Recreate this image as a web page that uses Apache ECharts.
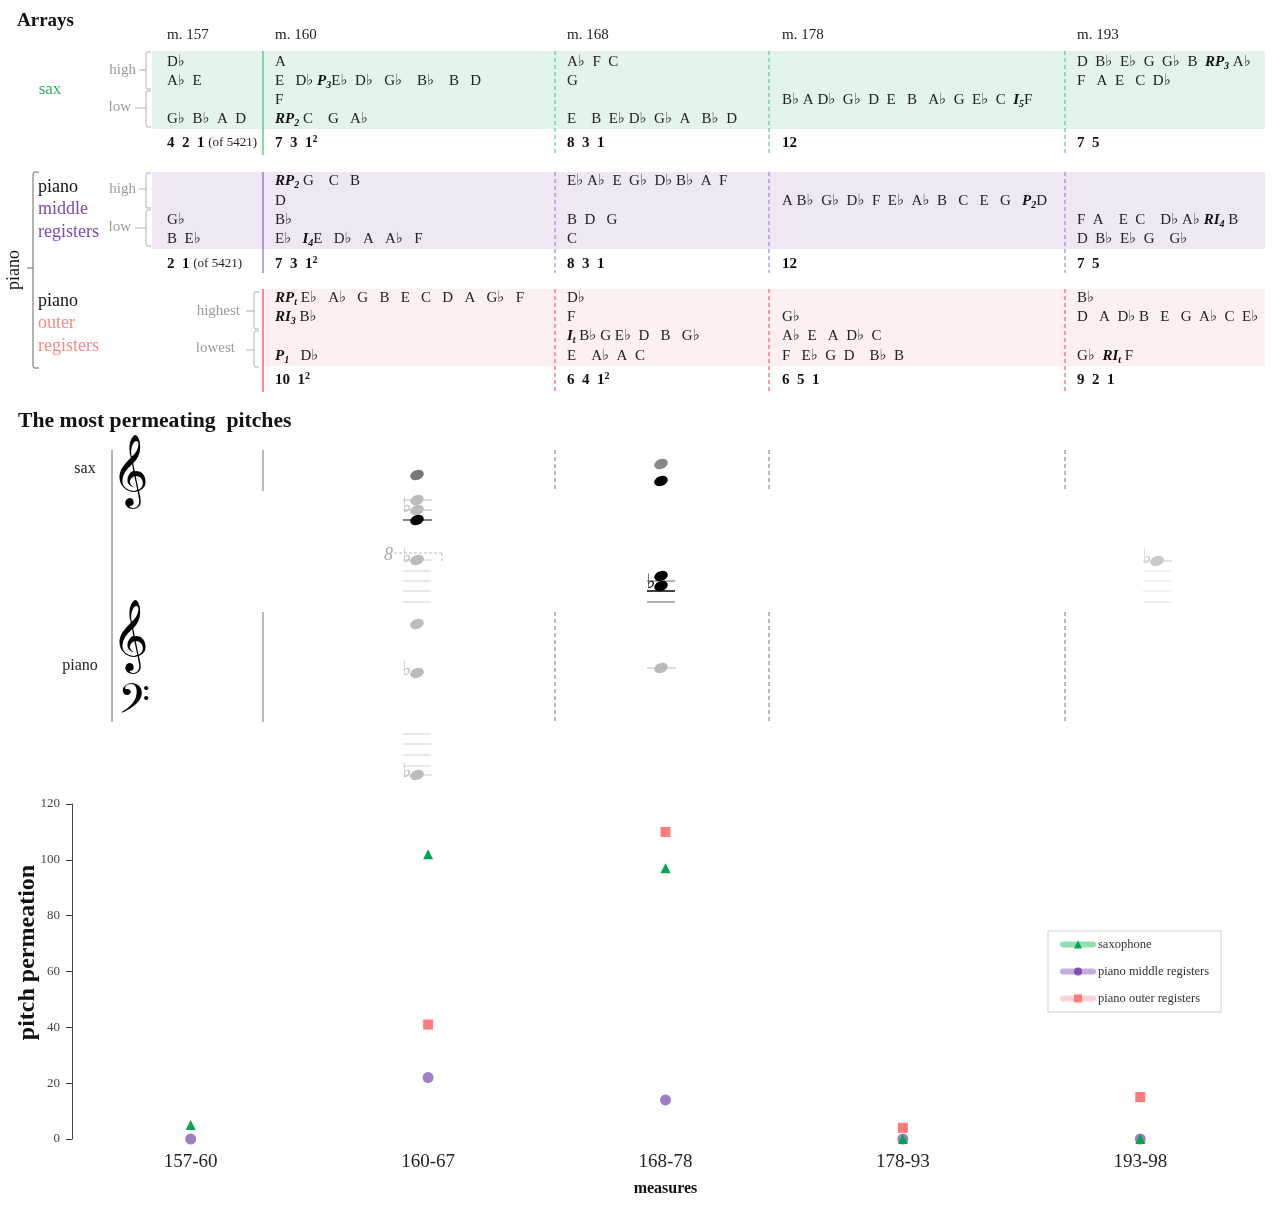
<!DOCTYPE html>
<html><head><meta charset="utf-8">
<script src="https://cdn.jsdelivr.net/npm/echarts@6/dist/echarts.min.js"></script>
<style>html,body{margin:0;padding:0;background:#fff}#c{width:1280px;height:1212px}</style>
</head><body><div id="c"></div>
<script>
// ---------- data ----------
const measures = ['157-60', '160-67', '168-78', '178-93', '193-98'];
const saxophone = [5, 102, 97, 0, 0];
const pianoMiddle = [0, 22, 14, 0, 0];
const pianoOuter = [null, 41, 110, 4, 15];
const yTicks = [0, 20, 40, 60, 80, 100, 120];

const columnHeaders = ['m. 157', 'm. 160', 'm. 168', 'm. 178', 'm. 193'];
const saxRows = [
  ['D♭', 'A♭  E', '', 'G♭  B♭  A  D'],
  ['A', 'E   D♭ {bi|P}{sub|3}E♭  D♭   G♭    B♭    B   D', 'F', '{bi|RP}{sub|2} C    G   A♭'],
  ['A♭  F  C', 'G', '', 'E    B  E♭ D♭  G♭  A   B♭  D'],
  ['', '', 'B♭ A D♭  G♭  D  E   B   A♭  G  E♭  C  {bi|I}{sub|5}F', ''],
  ['D  B♭  E♭  G  G♭  B  {bi|RP}{sub|3} A♭', 'F   A  E   C  D♭', '', '']
];
const saxCounts = ['{b|4  2  1} {s|(of 5421)}', '{b|7  3  1}{sup|2}', '{b|8  3  1}', '{b|12}', '{b|7  5}'];
const midRows = [
  ['', '', 'G♭', 'B  E♭'],
  ['{bi|RP}{sub|2} G    C   B', 'D', 'B♭', 'E♭   {bi|I}{sub|4}E   D♭   A   A♭   F'],
  ['E♭ A♭  E  G♭  D♭ B♭  A  F', '', 'B  D   G', 'C'],
  ['', 'A B♭  G♭  D♭  F  E♭  A♭  B   C   E   G   {bi|P}{sub|2}D', '', ''],
  ['', '', 'F  A    E  C    D♭ A♭ {bi|RI}{sub|4} B', 'D  B♭  E♭  G    G♭']
];
const midCounts = ['{b|2  1} {s|(of 5421)}', '{b|7  3  1}{sup|2}', '{b|8  3  1}', '{b|12}', '{b|7  5}'];
const outerRows = [
  ['', '', '', ''],
  ['{bi|RP}{sub|t} E♭   A♭   G   B   E   C   D   A   G♭   F', '{bi|RI}{sub|3} B♭', '', '{bi|P}{sub|1}   D♭'],
  ['D♭', 'F', '{bi|I}{sub|t} B♭ G E♭  D   B   G♭', 'E    A♭  A  C'],
  ['', 'G♭', 'A♭  E   A  D♭  C', 'F   E♭  G  D    B♭  B'],
  ['B♭', 'D   A  D♭ B   E   G  A♭  C  E♭', '', 'G♭  {bi|RI}{sub|t} F']
];
const outerCounts = ['', '{b|10  1}{sup|2}', '{b|6  4  1}{sup|2}', '{b|6  5  1}', '{b|9  2  1}'];

// ---------- drawing helpers ----------
const SERIF = '"Liberation Serif", "DejaVu Serif", serif';
const G = [];
const rich = {
  b: {fontWeight: 'bold', fontSize: 15, fontFamily: SERIF, fill: '#111', lineHeight: 18},
  s: {fontSize: 13, fontFamily: SERIF, fill: '#222', lineHeight: 18},
  sup: {fontSize: 10, fontWeight: 'bold', fontFamily: SERIF, fill: '#111', verticalAlign: 'top', lineHeight: 12},
  bi: {fontWeight: 'bold', fontStyle: 'italic', fontSize: 15, fontFamily: SERIF, fill: '#111', lineHeight: 18},
  sub: {fontSize: 10, fontWeight: 'bold', fontStyle: 'italic', fontFamily: SERIF, fill: '#111', verticalAlign: 'bottom', lineHeight: 10}
};
function txt(x, y, text, o) {
  o = o || {};
  G.push({type: 'text', x: x, y: y, z: 10, rotation: o.rot || 0, style: {
    text: text, fill: o.color || '#222',
    font: (o.style || 'normal') + ' ' + (o.weight || 'normal') + ' ' + (o.size || 15) + 'px ' + (o.family || SERIF),
    align: o.align || 'left', textAlign: o.align || 'left',
    verticalAlign: 'middle', textVerticalAlign: 'middle',
    lineHeight: 18, rich: rich
  }});
}
function line(x1, y1, x2, y2, color, w, dash) {
  G.push({type: 'line', z: 5, shape: {x1, y1, x2, y2}, style: {stroke: color, lineWidth: w || 1, lineDash: dash || null}});
}
function poly(pts, color) {
  G.push({type: 'polyline', z: 5, shape: {points: pts}, style: {stroke: color, fill: null, lineWidth: 1}});
}
function rect(x, y, w, h, color) {
  G.push({type: 'rect', z: 1, shape: {x, y, width: w, height: h}, style: {fill: color}});
}
function bracket(x, top, bot, tickY, tickX, endX, color) {
  poly([[endX, top], [x + 1, top], [x, top + 2], [x, bot - 2], [x + 1, bot], [endX, bot]], color);
  line(x, tickY, tickX, tickY, color, 1);
}

// ---------- titles ----------
txt(17, 21, 'Arrays', {weight: 'bold', size: 19, color: '#111'});
txt(18, 421, 'The most permeating  pitches', {weight: 'bold', size: 21.7, color: '#111'});

// ---------- arrays section ----------
const colX = [167, 275, 567, 782, 1077];
const sepX = [263, 555, 769, 1065];
columnHeaders.forEach((h, i) => txt(colX[i], 35, h, {size: 15}));

const sections = [
  {rows: saxRows, counts: saxCounts, top: 51, bot: 129, left: 152, rowY: [62, 81, 100, 119], countY: 143, lineBot: 155,
   band: '#e3f4ea', solid: '#1fb35c', dash: '#3cc274'},
  {rows: midRows, counts: midCounts, top: 172, bot: 249, left: 152, rowY: [181, 201, 220, 239], countY: 264, lineBot: 273,
   band: '#efe7f4', solid: '#7b4bb8', dash: '#9a6ed2'},
  {rows: outerRows, counts: outerCounts, top: 289, bot: 366, left: 263, rowY: [298, 317, 336, 356], countY: 380, lineBot: 392,
   band: '#fdf0f0', solid: '#e8262b', dash: '#ee4545'}
];
sections.forEach(s => {
  rect(s.left, s.top, 1265 - s.left, s.bot - s.top, s.band);
  sepX.forEach((x, i) => {
    line(x, s.top, x, s.lineBot, i === 0 ? s.solid : s.dash, 1, i === 0 ? null : [4, 3]);
  });
  s.rows.forEach((col, ci) => col.forEach((t, ri) => { if (t) txt(colX[ci], s.rowY[ri], t); }));
  s.counts.forEach((t, ci) => { if (t) txt(colX[ci], s.countY, t); });
});

// left-hand labels
txt(50, 90, 'sax', {size: 17, color: '#2db567', align: 'center'});
txt(136, 70, 'high', {size: 15, color: '#9a9a9a', align: 'right'});
txt(131, 107, 'low', {size: 15, color: '#9a9a9a', align: 'right'});
bracket(146, 52, 89, 70, 139, 151, '#b0b0b0');
bracket(146, 91, 127, 108, 135, 151, '#b0b0b0');

txt(38, 187, 'piano', {size: 18, color: '#111'});
txt(38, 209, 'middle', {size: 18, color: '#7b49b5'});
txt(38, 232, 'registers', {size: 18, color: '#7b49b5'});
txt(136, 189, 'high', {size: 15, color: '#9a9a9a', align: 'right'});
txt(131, 227, 'low', {size: 15, color: '#9a9a9a', align: 'right'});
bracket(146, 173, 208, 189, 139, 151, '#b0b0b0');
bracket(146, 210, 246, 228, 135, 151, '#b0b0b0');

txt(38, 301, 'piano', {size: 18, color: '#111'});
txt(38, 323, 'outer', {size: 18, color: '#f58a8a'});
txt(38, 346, 'registers', {size: 18, color: '#f58a8a'});
txt(240, 311, 'highest', {size: 15, color: '#9a9a9a', align: 'right'});
txt(235, 348, 'lowest', {size: 15, color: '#9a9a9a', align: 'right'});
bracket(254, 292, 329, 311, 246, 259, '#b0b0b0');
bracket(254, 331, 367, 350, 246, 259, '#b0b0b0');

// big piano bracket
poly([[39, 172], [34, 172], [33, 174], [33, 366], [34, 368], [39, 368]], '#666');
line(33, 268, 27, 268, '#666', 1);
txt(14, 270, 'piano', {size: 18, color: '#111', align: 'center', rot: Math.PI / 2});

// ---------- notation section ----------
txt(85, 469, 'sax', {size: 16, align: 'center'});
txt(80, 666, 'piano', {size: 16, align: 'center'});
line(112, 450, 112, 722, '#666', 1);
txt(130, 475, '𝄞', {size: 62, align: 'center', color: '#000', family: '"DejaVu Sans", "Noto Sans", sans-serif'});
txt(130, 640, '𝄞', {size: 62, align: 'center', color: '#000', family: '"DejaVu Sans", "Noto Sans", sans-serif'});
txt(134, 708, '𝄢', {size: 50, align: 'center', color: '#000', family: '"DejaVu Sans", "Noto Sans", sans-serif'});
[[450, 491], [612, 722]].forEach(([a, b]) => {
  line(263, a, 263, b, '#777', 1);
  [555, 769, 1065].forEach(x => line(x, a, x, b, '#777', 1, [4, 3]));
});
function note(x, y, color, opt) {
  opt = opt || {};
  if (opt.ledger) line(x - 14, y, x + 15, y, opt.ledger, 1);
  G.push({type: 'ellipse', z: 8, x: x, y: y, rotation: 0.38, shape: {cx: 0, cy: 0, rx: 7, ry: 4.8}, style: {fill: color}});
  if (opt.flat) txt(x - 15, y - 3, '♭', {size: 20, color: opt.flat, family: '"DejaVu Serif", serif'});
}
function ledgers(x, ys, color) { ys.forEach(y => line(x - 14, y, x + 14, y, color, 1)); }
// 160-67
note(417, 475, '#777');
note(417, 500, '#bbb', {ledger: '#bbb'});
note(417, 510, '#bbb', {ledger: '#bbb', flat: '#bbb'});
note(417, 520, '#000', {ledger: '#000'});
txt(384, 555, '8', {size: 18, style: 'italic', color: '#aaa'});
line(394, 553, 442, 553, '#bbb', 1, [3, 2]);
line(442, 553, 442, 561, '#bbb', 1, [3, 2]);
note(417, 560, '#bbb', {ledger: '#ccc', flat: '#bbb'});
ledgers(417, [571, 581, 591, 602], '#d0d0d0');
note(417, 624, '#bbb');
note(417, 673, '#bbb', {flat: '#bbb'});
ledgers(417, [734, 744, 755, 766], '#d0d0d0');
note(417, 775, '#bbb', {ledger: '#ccc', flat: '#bbb'});
// 168-78
note(661, 464, '#888');
note(661, 481, '#000');
line(647, 581, 675, 581, '#999', 1.5);
line(647, 591, 675, 591, '#000', 1.5);
line(647, 602, 675, 602, '#999', 1.5);
note(661, 576, '#000');
note(661, 586, '#000', {flat: '#000'});
note(661, 668, '#bbb', {ledger: '#bbb'});
// 193-98
note(1157, 561, '#c8c8c8', {ledger: '#ccc', flat: '#c8c8c8'});
ledgers(1157, [571, 581, 591, 602], '#e2e2e2');

// ---------- chart ----------
const chart = echarts.init(document.getElementById('c'));
chart.setOption({
  animation: false,
  backgroundColor: '#fff',
  textStyle: {fontFamily: SERIF},
  graphic: G,
  grid: {left: 72, right: 21, top: 804, bottom: 73, containLabel: false, outerBoundsMode: 'none'},
  legend: {
    orient: 'vertical', left: 1048, top: 931,
    padding: [7, 12, 7, 12], itemGap: 14, itemWidth: 30, itemHeight: 10,
    borderColor: '#cfcfcf', borderWidth: 1, borderRadius: 0,
    textStyle: {fontFamily: SERIF, fontSize: 12.5, color: '#333'},
    data: [
      {name: 'saxophone', lineStyle: {color: '#93ddb3', width: 6, opacity: 1, cap: 'round'}, itemStyle: {color: '#00a650'}},
      {name: 'piano middle registers', lineStyle: {color: '#c6addf', width: 6, opacity: 1, cap: 'round'}, itemStyle: {color: '#7d52b6'}},
      {name: 'piano outer registers', lineStyle: {color: '#ffd3d3', width: 6, opacity: 1, cap: 'round'}, itemStyle: {color: '#ff7b7b'}}
    ]
  },
  xAxis: {
    type: 'category', data: measures, boundaryGap: true,
    axisLine: {show: false}, axisTick: {show: false},
    axisLabel: {fontFamily: SERIF, fontSize: 19, color: '#222', margin: 14},
    name: 'measures', nameLocation: 'middle', nameGap: 42, nameMoveOverlap: false,
    nameTextStyle: {fontFamily: SERIF, fontSize: 16, fontWeight: 'bold', color: '#111'}
  },
  yAxis: {
    type: 'value', min: yTicks[0], max: yTicks[yTicks.length - 1], interval: 20,
    splitLine: {show: false},
    axisLine: {show: true, lineStyle: {color: '#444'}},
    axisTick: {show: true, length: 6, lineStyle: {color: '#444'}},
    axisLabel: {fontFamily: SERIF, fontSize: 13, color: '#444', margin: 12},
    name: 'pitch permeation', nameLocation: 'middle', nameGap: 32, nameRotate: 90, nameMoveOverlap: false,
    nameTextStyle: {fontFamily: SERIF, fontSize: 24, fontWeight: 'bold', color: '#111', padding: [0, 0, 0, 38]}
  },
  series: [
    {name: 'piano outer registers', type: 'line', data: pianoOuter, symbol: 'rect', symbolSize: 10, showAllSymbol: true,
     itemStyle: {color: '#ff7b7b'}, lineStyle: {opacity: 0, color: '#ffd3d3'}, z: 2},
    {name: 'piano middle registers', type: 'line', data: pianoMiddle, symbol: 'circle', symbolSize: 11, showAllSymbol: true,
     itemStyle: {color: '#9d7fc6'}, lineStyle: {opacity: 0, color: '#c6addf'}, z: 3},
    {name: 'saxophone', type: 'line', data: saxophone, symbol: 'triangle', symbolSize: 10, showAllSymbol: true,
     itemStyle: {color: '#00a650'}, lineStyle: {opacity: 0, color: '#93ddb3'}, z: 4}
  ]
});
</script>
</body></html>
